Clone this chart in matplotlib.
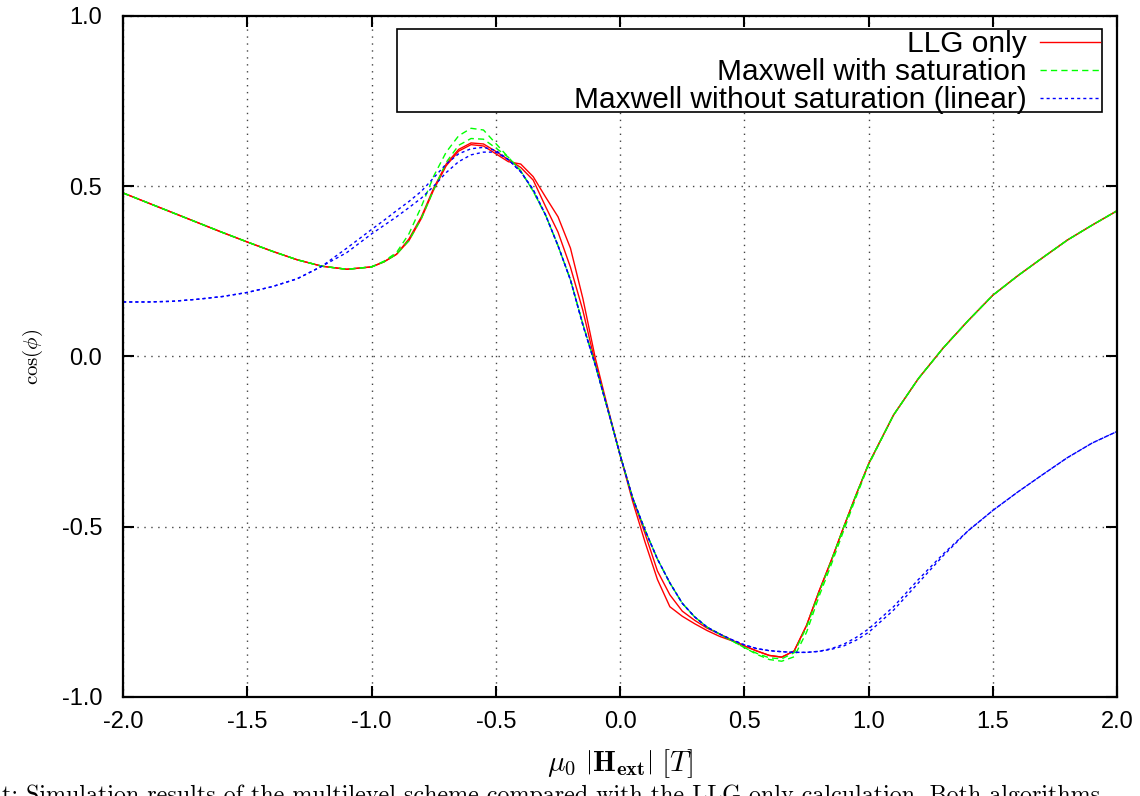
import matplotlib
matplotlib.use('Agg')
import matplotlib.pyplot as plt
from matplotlib.patches import Rectangle

plt.rcParams.update({
    'font.family': 'sans-serif',
    'font.sans-serif': ['Liberation Sans', 'DejaVu Sans'],
    'mathtext.fontset': 'cm',
    'font.size': 16,
})

# field values (T), shared by every branch
field = [-2.0, -1.9, -1.8, -1.7, -1.6, -1.5, -1.4, -1.3, -1.2, -1.1, -1.0,
         -0.95, -0.9, -0.85, -0.8, -0.75, -0.7, -0.65, -0.6, -0.55, -0.5,
         -0.45, -0.4, -0.35, -0.3, -0.25, -0.2, -0.15, -0.1, -0.05, 0.0,
         0.05, 0.1, 0.15, 0.2, 0.25, 0.3, 0.35, 0.4, 0.45, 0.5,
         0.55, 0.6, 0.65, 0.7, 0.75, 0.8, 0.85, 0.9, 0.95, 1.0,
         1.1, 1.2, 1.3, 1.4, 1.5, 1.6, 1.7, 1.8, 1.9, 2.0]

# LLG only, two sweep branches
llg_a = [0.480, 0.451, 0.422, 0.393, 0.364, 0.336, 0.309, 0.284, 0.265, 0.256, 0.263,
         0.278, 0.300, 0.345, 0.410, 0.495, 0.565, 0.608, 0.627, 0.624, 0.602,
         0.578, 0.555, 0.518, 0.440, 0.365, 0.262, 0.135, -0.020, -0.155, -0.290,
         -0.415, -0.520, -0.630, -0.700, -0.748, -0.775, -0.798, -0.815, -0.833, -0.850,
         -0.865, -0.878, -0.883, -0.865, -0.790, -0.690, -0.598, -0.500, -0.405, -0.315,
         -0.172, -0.065, 0.025, 0.105, 0.180, 0.237, 0.290, 0.342, 0.386, 0.428]
llg_b = [0.480, 0.451, 0.422, 0.393, 0.364, 0.336, 0.309, 0.284, 0.265, 0.256, 0.263,
         0.278, 0.300, 0.340, 0.405, 0.490, 0.560, 0.603, 0.622, 0.618, 0.595,
         0.572, 0.565, 0.528, 0.468, 0.410, 0.318, 0.170, -0.005, -0.150, -0.290,
         -0.425, -0.545, -0.655, -0.735, -0.763, -0.785, -0.805, -0.822, -0.835, -0.850,
         -0.865, -0.878, -0.883, -0.865, -0.790, -0.690, -0.598, -0.500, -0.405, -0.315,
         -0.172, -0.065, 0.025, 0.105, 0.180, 0.237, 0.290, 0.342, 0.386, 0.428]

# Maxwell with saturation
sat_a = [0.480, 0.451, 0.422, 0.393, 0.364, 0.336, 0.309, 0.284, 0.265, 0.256, 0.263,
         0.280, 0.305, 0.360, 0.440, 0.530, 0.600, 0.648, 0.670, 0.665, 0.625,
         0.585, 0.545, 0.485, 0.415, 0.325, 0.225, 0.095, -0.025, -0.155, -0.290,
         -0.415, -0.510, -0.595, -0.665, -0.725, -0.765, -0.795, -0.815, -0.835, -0.855,
         -0.875, -0.890, -0.895, -0.882, -0.810, -0.705, -0.610, -0.510, -0.412, -0.318,
         -0.172, -0.065, 0.025, 0.105, 0.180, 0.237, 0.290, 0.342, 0.386, 0.428]
sat_b = [0.480, 0.451, 0.422, 0.393, 0.364, 0.336, 0.309, 0.284, 0.265, 0.256, 0.263,
         0.278, 0.300, 0.340, 0.405, 0.490, 0.570, 0.620, 0.640, 0.638, 0.612,
         0.585, 0.545, 0.485, 0.415, 0.325, 0.225, 0.095, -0.025, -0.155, -0.290,
         -0.415, -0.510, -0.595, -0.665, -0.725, -0.765, -0.795, -0.815, -0.835, -0.855,
         -0.872, -0.885, -0.888, -0.870, -0.795, -0.695, -0.600, -0.500, -0.405, -0.315,
         -0.172, -0.065, 0.025, 0.105, 0.180, 0.237, 0.290, 0.342, 0.386, 0.428]

# Maxwell without saturation (linear)
lin_a = [0.160, 0.160, 0.162, 0.168, 0.176, 0.188, 0.205, 0.228, 0.265, 0.318, 0.373,
         0.400, 0.428, 0.455, 0.485, 0.525, 0.565, 0.595, 0.610, 0.614, 0.605,
         0.578, 0.542, 0.490, 0.415, 0.325, 0.225, 0.092, -0.025, -0.155, -0.290,
         -0.415, -0.510, -0.595, -0.665, -0.725, -0.765, -0.795, -0.815, -0.832, -0.847,
         -0.858, -0.864, -0.867, -0.869, -0.869, -0.866, -0.858, -0.845, -0.825, -0.800,
         -0.735, -0.655, -0.580, -0.512, -0.452, -0.398, -0.347, -0.297, -0.254, -0.220]
lin_b = [0.160, 0.160, 0.162, 0.168, 0.176, 0.188, 0.205, 0.228, 0.265, 0.305, 0.360,
         0.385, 0.410, 0.437, 0.465, 0.500, 0.540, 0.572, 0.592, 0.600, 0.600,
         0.578, 0.542, 0.490, 0.415, 0.325, 0.225, 0.092, -0.025, -0.155, -0.290,
         -0.415, -0.510, -0.595, -0.665, -0.725, -0.765, -0.795, -0.815, -0.832, -0.847,
         -0.858, -0.864, -0.867, -0.869, -0.869, -0.866, -0.860, -0.850, -0.833, -0.810,
         -0.745, -0.665, -0.585, -0.512, -0.452, -0.398, -0.347, -0.297, -0.254, -0.220]

labels = ['LLG only', 'Maxwell with saturation', 'Maxwell without saturation (linear)']
RED, GREEN, BLUE = '#ff0000', '#00ff00', '#0000ff'

fig = plt.figure(figsize=(11.4, 7.96), dpi=100)
ax = fig.add_axes([0.108, 0.1244, 0.872, 0.8556])

ax.plot(field, llg_a, color=RED, lw=1.0, label=labels[0])
ax.plot(field, llg_b, color=RED, lw=1.0)
ax.plot(field, sat_a, color=GREEN, lw=1.0, dashes=(4.5, 3), label=labels[1])
ax.plot(field, sat_b, color=GREEN, lw=1.0, dashes=(4.5, 3))
ax.plot(field, lin_a, color=BLUE, lw=1.0, dashes=(2.2, 2.2), label=labels[2])
ax.plot(field, lin_b, color=BLUE, lw=1.0, dashes=(2.2, 2.2))

ax.set_xlim(-2, 2)
ax.set_ylim(-1, 1)
ax.set_xticks([-2, -1.5, -1, -0.5, 0, 0.5, 1, 1.5, 2])
ax.set_yticks([-1, -0.5, 0, 0.5, 1])
ax.xaxis.set_major_formatter(plt.FormatStrFormatter('%.1f'))
ax.yaxis.set_major_formatter(plt.FormatStrFormatter('%.1f'))
ax.tick_params(direction='in', length=8, width=1.5, top=True, right=True, labelsize=17)
ax.tick_params(axis='x', pad=10)
ax.tick_params(axis='y', pad=15)
ax.grid(True, color='#444444', linestyle=(0, (1, 4)), lw=1.0)
for s in ax.spines.values():
    s.set_linewidth(1.6)

# legend box spans wider than its entries, as in gnuplot
ax.add_patch(Rectangle((0.276, 0.859), 0.709, 0.122, transform=ax.transAxes,
                       facecolor='white', edgecolor='black', lw=1.2, zorder=4))
leg = ax.legend(loc='upper right', bbox_to_anchor=(0.984, 0.981), frameon=False,
                markerfirst=False, fontsize=21.5, handlelength=2.0, handletextpad=0.45,
                labelspacing=0.0, borderaxespad=0, borderpad=0.05)
leg.set_zorder(5)

ax.set_ylabel(r'$\cos(\phi)$', fontsize=15, labelpad=12)
ax.set_xlabel(r'$\mu_0\ \left|\mathbf{H}_{\mathbf{ext}}\right|\ [T]$', fontsize=21)
ax.xaxis.set_label_coords(0.5, -0.073)

# figure caption from the source page, cut off by the bottom edge
fig.text(0.002, 0.014, 't: Simulation results of the multilevel scheme compared with the LLG only calculation. Both algorithms',
         fontsize=17.3, family='cmr10', va='top', ha='left')

plt.savefig('out.png', dpi=100, facecolor='white')
